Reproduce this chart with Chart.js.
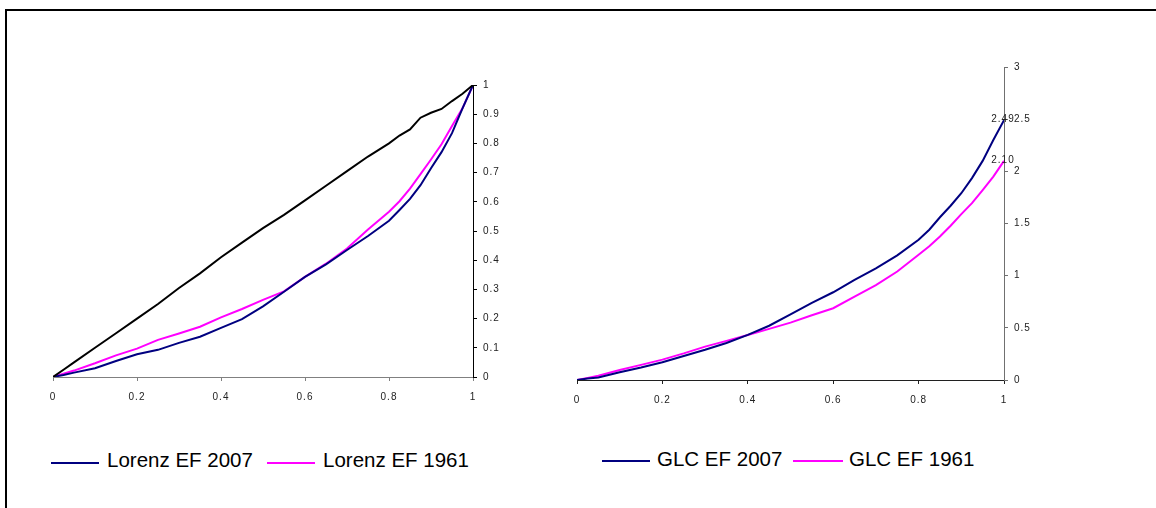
<!DOCTYPE html>
<html>
<head>
<meta charset="utf-8">
<script src="https://cdn.jsdelivr.net/npm/chart.js@4.4.1/dist/chart.umd.min.js"></script>
<style>
  html, body { margin: 0; padding: 0; background: #fff; }
  body { width: 1156px; height: 508px; position: relative; overflow: hidden; font-family: "Liberation Sans", Arial, sans-serif; }
  #frame { position: absolute; left: 5px; top: 9px; width: 1160px; height: 510px; border-top: 2px solid #000; border-left: 2px solid #000; }
  .cv { position: absolute; }
  .lg-line { position: absolute; height: 2px; }
  .lg-text { position: absolute; font-size: 20.5px; line-height: 1; color: #000; white-space: nowrap; }
</style>
</head>
<body>
<div id="frame"></div>
<div class="cv" style="left:0;top:0;width:560px;height:430px;"><canvas id="left"></canvas></div>
<div class="cv" style="left:560px;top:0;width:596px;height:430px;"><canvas id="right"></canvas></div>

<div class="lg-line" style="left:51px;top:462px;width:48px;background:#000080;"></div>
<div class="lg-text" id="lt1" style="left:107px;top:449.5px;"></div>
<div class="lg-line" style="left:267px;top:462px;width:48px;background:#FF00FF;"></div>
<div class="lg-text" id="lt2" style="left:323px;top:449.5px;"></div>
<div class="lg-line" style="left:602px;top:460px;width:48px;background:#000080;"></div>
<div class="lg-text" id="rt1" style="left:657px;top:449px;"></div>
<div class="lg-line" style="left:793px;top:460px;width:50px;background:#FF00FF;"></div>
<div class="lg-text" id="rt2" style="left:849px;top:449px;"></div>

<script>
// ---- data ----
const popShare = [0, 0.025, 0.05, 0.1, 0.15, 0.2, 0.25, 0.3, 0.35, 0.4, 0.45, 0.5, 0.55, 0.6, 0.65, 0.7, 0.75, 0.8, 0.825, 0.85, 0.875, 0.9, 0.925, 0.95, 0.975, 1];

const lorenzBlack  = [0, 0.025, 0.05, 0.10, 0.15, 0.20, 0.25, 0.305, 0.355, 0.41, 0.46, 0.51, 0.555, 0.605, 0.655, 0.705, 0.755, 0.80, 0.827, 0.848, 0.888, 0.905, 0.918, 0.945, 0.97, 1];
const lorenzEF2007 = [0, 0.007, 0.015, 0.03, 0.055, 0.078, 0.093, 0.117, 0.138, 0.168, 0.198, 0.242, 0.292, 0.343, 0.386, 0.435, 0.483, 0.535, 0.572, 0.61, 0.657, 0.715, 0.77, 0.835, 0.92, 1];
const lorenzEF1961 = [0, 0.011, 0.022, 0.047, 0.074, 0.097, 0.127, 0.149, 0.172, 0.204, 0.233, 0.264, 0.293, 0.343, 0.388, 0.44, 0.505, 0.566, 0.602, 0.645, 0.695, 0.745, 0.797, 0.86, 0.92, 1];

const glcEF2007 = [0, 0.014, 0.025, 0.075, 0.12, 0.17, 0.23, 0.29, 0.355, 0.432, 0.52, 0.63, 0.74, 0.841, 0.96, 1.07, 1.195, 1.344, 1.44, 1.56, 1.67, 1.79, 1.935, 2.1, 2.3, 2.49];
const glcEF1961 = [0, 0.02, 0.04, 0.095, 0.145, 0.195, 0.255, 0.32, 0.375, 0.432, 0.49, 0.55, 0.62, 0.688, 0.8, 0.91, 1.04, 1.2, 1.282, 1.375, 1.478, 1.59, 1.695, 1.82, 1.95, 2.10];

const lorenzLabels = ['Lorenz EF 2007', 'Lorenz EF 1961'];
const glcLabels = ['GLC EF 2007', 'GLC EF 1961'];

const xTicks = [0, 0.2, 0.4, 0.6, 0.8, 1];
const lorenzYTicks = [0, 0.1, 0.2, 0.3, 0.4, 0.5, 0.6, 0.7, 0.8, 0.9, 1];
const glcYTicks = [0, 0.5, 1, 1.5, 2, 2.5, 3];

const NAVY = '#000080', MAGENTA = '#FF00FF', BLACK = '#000000';

document.getElementById('lt1').textContent = lorenzLabels[0];
document.getElementById('lt2').textContent = lorenzLabels[1];
document.getElementById('rt1').textContent = glcLabels[0];
document.getElementById('rt2').textContent = glcLabels[1];

function pts(ys) { return popShare.map((x, i) => ({ x: x, y: ys[i] })); }
function ds(label, ys, color) {
  return { label: label, data: pts(ys), borderColor: color, backgroundColor: color, borderWidth: 2, pointRadius: 0, tension: 0, fill: false };
}

const tickFont = { family: '"Liberation Sans", Arial, sans-serif', size: 10 };

const spacingPlugin = {
  id: 'spacing',
  beforeDraw(chart) { try { chart.ctx.letterSpacing = '1px'; } catch (e) {} }
};

const endLabelPlugin = {
  id: 'endLabels',
  afterDatasetsDraw(chart, args, opts) {
    if (!opts || !opts.enabled) return;
    const ctx = chart.ctx;
    ctx.save();
    try { ctx.letterSpacing = '1px'; } catch (e) {}
    ctx.font = '10px "Liberation Sans", Arial, sans-serif';
    ctx.fillStyle = '#222';
    ctx.textAlign = 'center';
    ctx.textBaseline = 'middle';
    chart.data.datasets.forEach((d, i) => {
      const meta = chart.getDatasetMeta(i);
      const n = meta.data.length - 1;
      const el = meta.data[n];
      ctx.fillText(d.data[n].y.toFixed(2), el.x - 1, el.y - 1);
    });
    ctx.restore();
  }
};

function makeOptions(yMax, yTicks, pad, axisColors) {
  return {
    responsive: false,
    animation: false,
    maintainAspectRatio: false,
    layout: { padding: pad },
    plugins: { legend: { display: false }, tooltip: { enabled: false }, endLabels: { enabled: false } },
    scales: {
      x: {
        type: 'linear', min: 0, max: 1,
        afterBuildTicks: (s) => { s.ticks = xTicks.map(v => ({ value: v })); },
        afterFit: (s) => { s.height = 30; },
        border: { display: true, color: axisColors.x, width: 1 },
        grid: { display: true, drawOnChartArea: false, drawTicks: true, tickLength: 4, color: axisColors.x },
        ticks: { font: tickFont, color: '#222', padding: 10, maxRotation: 0, callback: (v) => String(v) }
      },
      y: {
        type: 'linear', position: 'right', min: 0, max: yMax,
        afterBuildTicks: (s) => { s.ticks = yTicks.map(v => ({ value: v })); },
        afterFit: (s) => { s.width = 40; },
        border: { display: true, color: axisColors.y, width: 1 },
        grid: { display: true, drawOnChartArea: false, drawTicks: true, tickLength: 4, color: axisColors.y },
        ticks: { font: tickFont, color: '#222', padding: 6, callback: (v) => String(v) }
      }
    }
  };
}

function setup(id, w, h) {
  const c = document.getElementById(id);
  c.width = w; c.height = h;
  c.style.width = w + 'px'; c.style.height = h + 'px';
  return c;
}

const leftOpts = makeOptions(1, lorenzYTicks, { left: 53, right: 47, top: 85, bottom: 23 }, { x: '#808080', y: '#000000' });
new Chart(setup('left', 560, 430), {
  type: 'line',
  data: { datasets: [
    ds('', lorenzBlack, BLACK),
    ds(lorenzLabels[0], lorenzEF2007, NAVY),
    ds(lorenzLabels[1], lorenzEF1961, MAGENTA)
  ] },
  options: leftOpts,
  plugins: [spacingPlugin]
});

const rightOpts = makeOptions(3, glcYTicks, { left: 17, right: 112, top: 67, bottom: 20 }, { x: '#202020', y: '#707070' });
rightOpts.plugins.endLabels.enabled = true;
new Chart(setup('right', 596, 430), {
  type: 'line',
  data: { datasets: [
    ds(glcLabels[0], glcEF2007, NAVY),
    ds(glcLabels[1], glcEF1961, MAGENTA)
  ] },
  options: rightOpts,
  plugins: [spacingPlugin, endLabelPlugin]
});
</script>
</body>
</html>
